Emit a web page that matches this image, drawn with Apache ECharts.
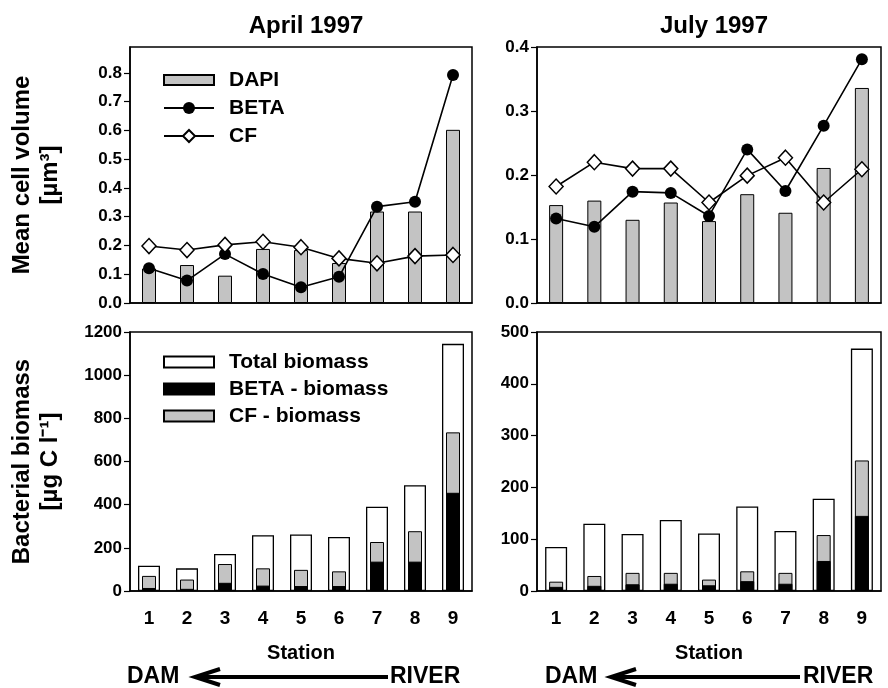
<!DOCTYPE html>
<html>
<head>
<meta charset="utf-8">
<script src="https://cdn.jsdelivr.net/npm/echarts@6/dist/echarts.min.js"></script>
<style>
  html, body { margin: 0; padding: 0; background: #fff; }
  #chart { width: 888px; height: 688px; }
</style>
</head>
<body>
<div id="chart"></div>
<script>
// stations along the river
var stations = ['1', '2', '3', '4', '5', '6', '7', '8', '9'];

// mean cell volume, April 1997
var aprDapi = [0.12, 0.132, 0.095, 0.188, 0.184, 0.139, 0.318, 0.318, 0.602];
var aprBeta = [0.121, 0.078, 0.17, 0.101, 0.055, 0.091, 0.335, 0.352, 0.793];
var aprCf   = [0.198, 0.184, 0.202, 0.213, 0.194, 0.155, 0.138, 0.163, 0.167];

// mean cell volume, July 1997
var julDapi = [0.153, 0.16, 0.13, 0.157, 0.128, 0.17, 0.141, 0.211, 0.336];
var julBeta = [0.132, 0.119, 0.174, 0.172, 0.136, 0.24, 0.175, 0.277, 0.381];
var julCf   = [0.182, 0.22, 0.21, 0.21, 0.157, 0.199, 0.227, 0.157, 0.209];

// bacterial biomass, April 1997
var aprTotal = [117, 105, 172, 258, 262, 250, 390, 490, 1145];
var aprCfBio = [70, 53, 125, 105, 98, 91, 227, 277, 735];
var aprBetaBio = [14, 10, 38, 25, 23, 23, 136, 136, 455];

// bacterial biomass, July 1997
var julTotal = [85, 130, 110, 137, 111, 163, 116, 178, 468];
var julCfBio = [18, 29, 35, 35, 22, 38, 35, 108, 252];
var julBetaBio = [8, 10, 13, 14, 11, 19, 14, 58, 145];

// tick values
var aprVolTicks = [0, 0.1, 0.2, 0.3, 0.4, 0.5, 0.6, 0.7, 0.8];

var font = '"Liberation Sans", Arial, sans-serif';
var grey = '#c3c3c3';

var chart = echarts.init(document.getElementById('chart'));

function xAxisTop(gi) {
  return {
    type: 'category', gridIndex: gi, data: stations,
    axisLine: { lineStyle: { color: '#000', width: 1.5 } },
    axisTick: { alignWithLabel: true, length: 6, lineStyle: { color: '#000', width: 1.2 } },
    axisLabel: { show: false },
    splitLine: { show: false }
  };
}
function xAxisBottom(gi) {
  return {
    type: 'category', gridIndex: gi, data: stations,
    name: 'Station', nameLocation: 'middle', nameGap: 52,
    nameTextStyle: { fontFamily: font, fontWeight: 'bold', fontSize: 20, color: '#000' },
    axisLine: { lineStyle: { color: '#000', width: 1.5 } },
    axisTick: { alignWithLabel: true, length: 6, lineStyle: { color: '#000', width: 1.2 } },
    axisLabel: { fontFamily: font, fontWeight: 'bold', fontSize: 19, color: '#000', margin: 18 },
    splitLine: { show: false }
  };
}
function xAxisHidden(gi) {
  return { type: 'category', gridIndex: gi, data: stations, show: false };
}
function yAxis(gi, max, interval, fmt, name) {
  var a = {
    type: 'value', gridIndex: gi, min: 0, max: max, interval: interval,
    axisLine: { show: true, lineStyle: { color: '#000', width: 1.5 } },
    axisTick: { show: true, length: 6, lineStyle: { color: '#000', width: 1.2 } },
    axisLabel: { fontFamily: font, fontWeight: 'bold', fontSize: 17, color: '#000', margin: 8, formatter: fmt },
    splitLine: { show: false }
  };
  if (name) {
    a.name = name;
    a.nameLocation = 'middle';
    a.nameRotate = 90;
    a.nameGap = 66;
    a.nameTextStyle = { fontFamily: font, fontWeight: 'bold', fontSize: 24, color: '#000', lineHeight: 28 };
  }
  return a;
}

var volFmt = function (v) { return v.toFixed(1); };
var bioFmt = function (v) { return String(v); };

var yTL = yAxis(0, 0.89, 0.1, volFmt, 'Mean cell volume\n[µm³]');
yTL.axisTick.customValues = aprVolTicks;
yTL.axisLabel.customValues = aprVolTicks;

function dapiBar(data, xi, yi) {
  return {
    name: 'DAPI', type: 'bar', xAxisIndex: xi, yAxisIndex: yi, data: data, barWidth: 14,
    itemStyle: { color: grey, borderColor: '#000', borderWidth: 1 }
  };
}
function betaLine(data, xi, yi) {
  return {
    name: 'BETA', type: 'line', xAxisIndex: xi, yAxisIndex: yi, data: data,
    symbol: 'circle', symbolSize: 12,
    itemStyle: { color: '#000' }, lineStyle: { color: '#000', width: 1.6 }, z: 3
  };
}
function cfLine(data, xi, yi) {
  return {
    name: 'CF', type: 'line', xAxisIndex: xi, yAxisIndex: yi, data: data,
    symbol: 'diamond', symbolSize: [14, 15],
    itemStyle: { color: '#fff', borderColor: '#000', borderWidth: 1.5 },
    lineStyle: { color: '#000', width: 1.6 }, z: 4
  };
}
function totalBar(data, xi, yi) {
  return {
    name: 'Total biomass', type: 'bar', xAxisIndex: xi, yAxisIndex: yi, data: data, barWidth: 22,
    itemStyle: { color: '#fff', borderColor: '#000', borderWidth: 1.3 }
  };
}
function cfBar(data, xi, yi) {
  return {
    name: 'CF - biomass', type: 'bar', xAxisIndex: xi, yAxisIndex: yi, data: data, barWidth: 14,
    barGap: '-100%',
    itemStyle: { color: grey, borderColor: '#000', borderWidth: 1 }
  };
}
function betaBar(data, xi, yi) {
  return {
    name: 'BETA - biomass', type: 'bar', xAxisIndex: xi, yAxisIndex: yi, data: data, barWidth: 14,
    barGap: '-100%',
    itemStyle: { color: '#000', borderColor: '#000', borderWidth: 1 }
  };
}

var legendText = { fontFamily: font, fontWeight: 'bold', fontSize: 21, lineHeight: 22, color: '#000', padding: [0, 0, 0, 10] };
var bigText = { fontFamily: font, fontWeight: 'bold', fontSize: 23, fill: '#000' };
// flat bar swatch inside a taller legend slot
var flatRect = 'path://M0,0 M0,2.5 L50,2.5 L50,12.5 L0,12.5 Z M50,15';

var option = {
  backgroundColor: '#fff',
  animation: false,
  title: [
    { text: 'April 1997', left: 301, top: 9, textAlign: 'center',
      textStyle: { fontFamily: font, fontWeight: 'bold', fontSize: 24, color: '#000' } },
    { text: 'July 1997', left: 709, top: 9, textAlign: 'center',
      textStyle: { fontFamily: font, fontWeight: 'bold', fontSize: 24, color: '#000' } }
  ],
  legend: [
    { orient: 'vertical', left: 158, top: 64, itemWidth: 50, itemHeight: 15, itemGap: 6,
      data: [{ name: 'DAPI', icon: flatRect }, 'BETA', 'CF'], textStyle: legendText },
    { orient: 'vertical', left: 158, top: 346, itemWidth: 50, itemHeight: 11, itemGap: 5,
      data: [{ name: 'Total biomass', icon: 'rect' }, { name: 'BETA - biomass', icon: 'rect' },
             { name: 'CF - biomass', icon: 'rect' }], textStyle: legendText }
  ],
  grid: [
    { left: 130, top: 47, width: 342, height: 256, show: true, borderColor: '#000', borderWidth: 1.5, backgroundColor: 'transparent' },
    { left: 537, top: 47, width: 344, height: 256, show: true, borderColor: '#000', borderWidth: 1.5, backgroundColor: 'transparent' },
    { left: 130, top: 332, width: 342, height: 259, show: true, borderColor: '#000', borderWidth: 1.5, backgroundColor: 'transparent' },
    { left: 537, top: 332, width: 344, height: 259, show: true, borderColor: '#000', borderWidth: 1.5, backgroundColor: 'transparent' }
  ],
  xAxis: [
    xAxisTop(0), xAxisTop(1), xAxisBottom(2), xAxisBottom(3),
    xAxisHidden(2), xAxisHidden(3)
  ],
  yAxis: [
    yTL,
    yAxis(1, 0.4, 0.1, volFmt),
    yAxis(2, 1200, 200, bioFmt, 'Bacterial biomass\n[µg C l⁻¹]'),
    yAxis(3, 500, 100, bioFmt)
  ],
  series: [
    dapiBar(aprDapi, 0, 0), betaLine(aprBeta, 0, 0), cfLine(aprCf, 0, 0),
    dapiBar(julDapi, 1, 1), betaLine(julBeta, 1, 1), cfLine(julCf, 1, 1),
    totalBar(aprTotal, 2, 2), cfBar(aprCfBio, 4, 2), betaBar(aprBetaBio, 4, 2),
    totalBar(julTotal, 3, 3), cfBar(julCfBio, 5, 3), betaBar(julBetaBio, 5, 3)
  ],
  graphic: [
    { type: 'text', left: 127, top: 665, style: Object.assign({ text: 'DAM' }, bigText) },
    { type: 'line', shape: { x1: 196, y1: 677, x2: 388, y2: 677 }, style: { stroke: '#000', lineWidth: 4 } },
    { type: 'polyline', shape: { points: [[220, 669], [195, 677], [220, 685]] }, style: { stroke: '#000', lineWidth: 4, fill: null } },
    { type: 'text', left: 390, top: 665, style: Object.assign({ text: 'RIVER' }, bigText) },
    { type: 'text', left: 545, top: 665, style: Object.assign({ text: 'DAM' }, bigText) },
    { type: 'line', shape: { x1: 612, y1: 677, x2: 800, y2: 677 }, style: { stroke: '#000', lineWidth: 4 } },
    { type: 'polyline', shape: { points: [[636, 669], [611, 677], [636, 685]] }, style: { stroke: '#000', lineWidth: 4, fill: null } },
    { type: 'text', left: 803, top: 665, style: Object.assign({ text: 'RIVER' }, bigText) }
  ]
};

chart.setOption(option);
window.onresize = chart.resize;
</script>
</body>
</html>
